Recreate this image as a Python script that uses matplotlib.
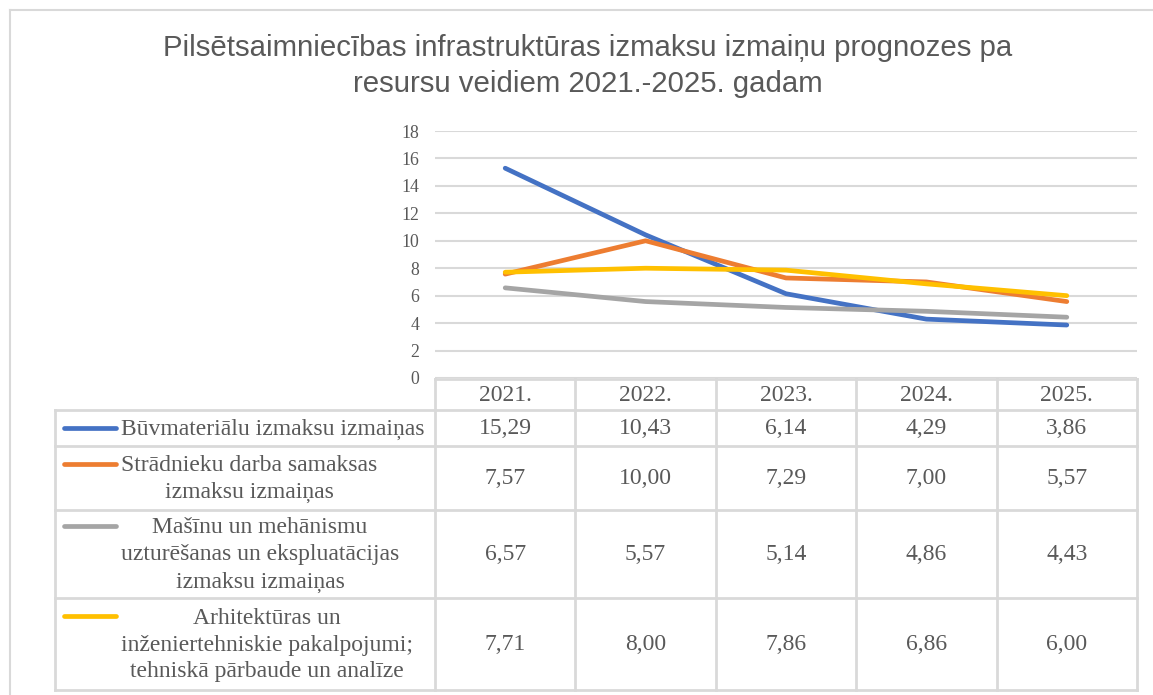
import matplotlib
matplotlib.use("Agg")
import matplotlib.pyplot as plt
from matplotlib.lines import Line2D

W, H = 1153, 695
years = ["2021.", "2022.", "2023.", "2024.", "2025."]
series_names = [
    "Būvmateriālu izmaksu izmaiņas",
    "Strādnieku darba samaksas\nizmaksu izmaiņas",
    "Mašīnu un mehānismu\nuzturēšanas un ekspluatācijas\nizmaksu izmaiņas",
    "Arhitektūras un\ninženiertehniskie pakalpojumi;\ntehniskā pārbaude un analīze",
]
buvmaterialu = [15.29, 10.43, 6.14, 4.29, 3.86]
stradnieku = [7.57, 10.00, 7.29, 7.00, 5.57]
masinu = [6.57, 5.57, 5.14, 4.86, 4.43]
arhitekturas = [7.71, 8.00, 7.86, 6.86, 6.00]
values = [buvmaterialu, stradnieku, masinu, arhitekturas]
colors = ["#4472C4", "#ED7D31", "#A5A5A5", "#FFC000"]
yticks = [0, 2, 4, 6, 8, 10, 12, 14, 16, 18]
title = "Pilsētsaimniecības infrastruktūras izmaksu izmaiņu prognozes pa\nresursu veidiem 2021.-2025. gadam"

GRID = "#D9D9D9"
TXT = "#595959"
SERIF = "Liberation Serif"
SANS = "Liberation Sans"

fig = plt.figure(figsize=(W / 100, H / 100), dpi=100)
fig.patch.set_facecolor("white")

def fx(x):
    return x / W

def fy(y):
    return 1 - y / H

# chart border
fig.add_artist(Line2D([fx(10), fx(10)], [fy(10), fy(H)], color=GRID, lw=1.5))
fig.add_artist(Line2D([fx(10), fx(W)], [fy(10), fy(10)], color=GRID, lw=1.5))

# plot area
x0, x1, ytop, ybot = 435, 1137, 131, 378
ax = fig.add_axes([fx(x0), fy(ybot), fx(x1 - x0), (ybot - ytop) / H])
ax.set_xlim(-0.5, len(years) - 0.5)
ax.set_ylim(0, 18)
for s in ax.spines.values():
    s.set_visible(False)
ax.set_yticks(yticks)
ax.set_yticklabels([str(t) for t in yticks], fontfamily=SERIF, fontsize=12.8, color=TXT)
ax.tick_params(axis="y", length=0, pad=11.5)
ax.set_xticks([])
ax.yaxis.grid(True, color=GRID, lw=1.5)
ax.set_axisbelow(True)
ax.patch.set_alpha(0)
xs = list(range(len(years)))
for vals, c in zip(values, colors):
    ax.plot(xs, vals, color=c, lw=3.4, solid_capstyle="round", clip_on=False)

fig.text(fx(588), fy(66), title, ha="center", va="center", fontfamily=SANS,
         fontsize=21.2, color=TXT, linespacing=1.38)

# data table
col_w = (x1 - x0) / len(years)
col_edges = [x0 + i * col_w for i in range(len(years) + 1)]
row_edges = [379, 410, 446, 510, 598, 690]
left = 55

def hline(y, xa, xb):
    fig.add_artist(Line2D([fx(xa), fx(xb)], [fy(y), fy(y)], color=GRID, lw=2))

def vline(x, ya, yb):
    fig.add_artist(Line2D([fx(x), fx(x)], [fy(ya), fy(yb)], color=GRID, lw=2))

hline(row_edges[0], x0, x1)
for y in row_edges[1:]:
    hline(y, left, x1)
vline(left, row_edges[1], row_edges[-1])
for x in col_edges:
    vline(x, row_edges[0], row_edges[-1])

TFS = 17
for i, yr in enumerate(years):
    cx = (col_edges[i] + col_edges[i + 1]) / 2
    fig.text(fx(cx), fy((row_edges[0] + row_edges[1]) / 2 + 1), yr, ha="center", va="center",
             fontfamily=SERIF, fontsize=TFS, color=TXT)

line_h = 28
for r, (name, vals, c) in enumerate(zip(series_names, values, colors)):
    ya, yb = row_edges[r + 1], row_edges[r + 2]
    cy = (ya + yb) / 2
    nlines = name.count("\n") + 1
    first_y = cy - (nlines - 1) * line_h / 2
    fig.add_artist(Line2D([fx(64), fx(116)], [fy(first_y), fy(first_y)], color=c, lw=3.4,
                          solid_capstyle="round"))
    fig.text(fx(121), fy(cy + 1), name, ha="left", va="center", multialignment="center",
             fontfamily=SERIF, fontsize=TFS, color=TXT, linespacing=1.37)
    for i, v in enumerate(vals):
        cx = (col_edges[i] + col_edges[i + 1]) / 2
        fig.text(fx(cx), fy(cy + 1), f"{v:.2f}".replace(".", ","), ha="center", va="center",
                 fontfamily=SERIF, fontsize=TFS, color=TXT)

fig.savefig("out.png", dpi=100, facecolor="white")
